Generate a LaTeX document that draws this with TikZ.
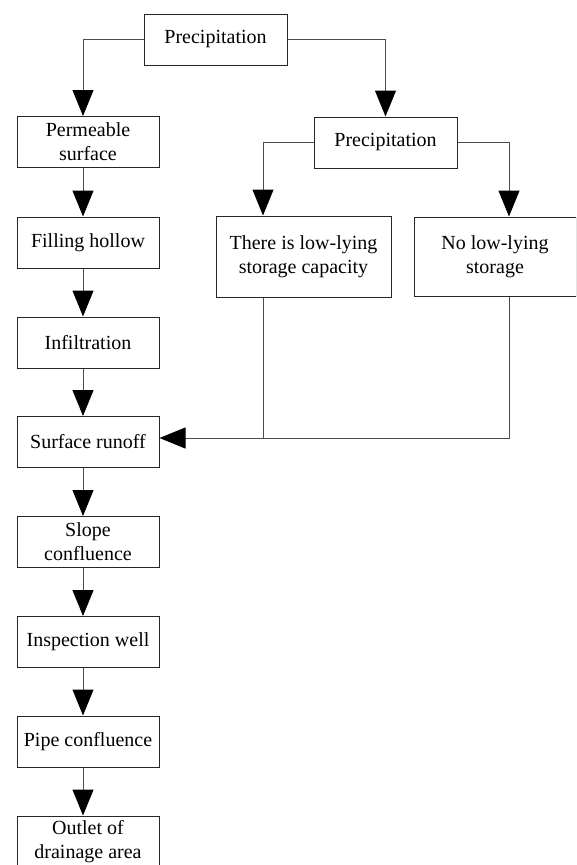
\documentclass[tikz,border=0pt]{standalone}
\usepackage{fontspec}
\setmainfont{Liberation Serif}
\usetikzlibrary{arrows.meta}
\begin{document}
\begin{tikzpicture}[x=1pt,y=-1pt,
  box/.style={draw=black!85, line width=1pt, fill=white, inner sep=0pt,
    align=center, font=\fontsize{20}{24}\selectfont},
  lbox/.style={box, minimum width=142pt, minimum height=51pt},
  flow/.style={draw=black!70, line width=1pt,
    -{Triangle[length=26pt,width=21pt,color=black]}},
  link/.style={draw=black!70, line width=1pt}]
\clip (0,0) rectangle (576,865);
\useasboundingbox (0,0) rectangle (576,865);

% top split
\node[box, minimum width=143pt, minimum height=51pt] (p0) at (215.5,39.5) {Precipitation};
\node[box, minimum width=143pt, minimum height=51pt] (p1) at (385.5,142.5) {Precipitation};
\node[box, minimum width=175pt, minimum height=81pt] (low) at (303.5,256.5) {There is low-lying\\storage capacity};
\node[box, minimum width=162pt, minimum height=79pt] (nolow) at (495,256.5) {No low-lying\\storage};

% main chain
\node[lbox] (perm)   at (88,142)   {Permeable\\surface};
\node[lbox] (fill)   at (88,242.5) {Filling hollow};
\node[lbox] (infl)   at (88,342.5) {Infiltration};
\node[lbox] (surf)   at (88,442)   {Surface runoff};
\node[lbox] (slope)  at (88,542)   {Slope\\confluence};
\node[lbox] (insp)   at (88,642)   {Inspection well};
\node[lbox] (pipe)   at (88,741.5) {Pipe confluence};
\node[lbox] (outlet) at (88,841.5) {Outlet of\\drainage area};

% connectors
\draw[flow] (p0.west) -| ([xshift=-5pt]perm.north);
\draw[flow] (p0.east) -| (p1.north);
\draw[flow] (p1.west) -| ([xshift=-40.5pt]low.north);
\draw[flow] (p1.east) -| ([xshift=14pt]nolow.north);

\coordinate (m) at ([yshift=4pt]surf.east);
\draw[flow] ([xshift=14pt]nolow.south) |- (m);
\draw[link] ([xshift=-40.5pt]low.south) -- ([xshift=-40.5pt]low.south |- m);

\foreach \a/\b in {perm/fill, fill/infl, infl/surf, surf/slope, slope/insp, insp/pipe, pipe/outlet}
  \draw[flow] ([xshift=-5pt]\a.south) -- ([xshift=-5pt]\b.north);
\end{tikzpicture}
\end{document}
